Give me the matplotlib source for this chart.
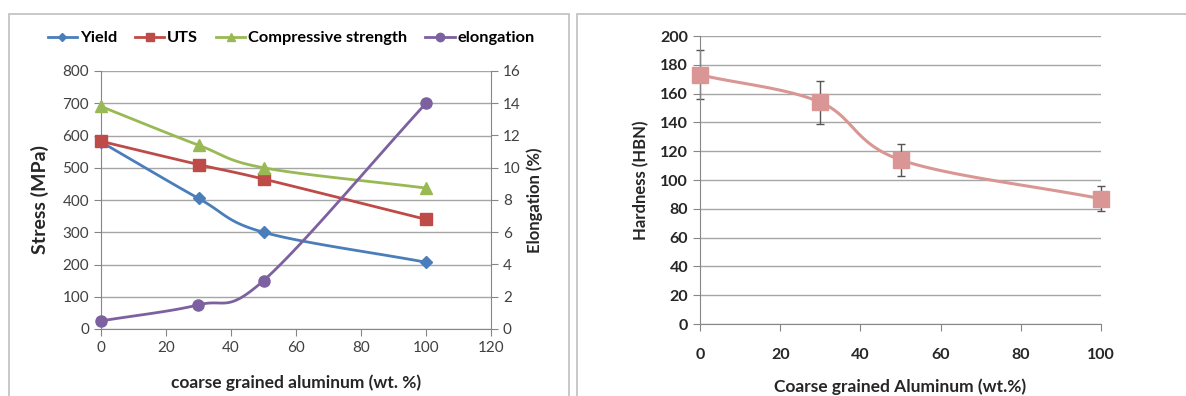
import numpy as np
import matplotlib
matplotlib.use("Agg")
import matplotlib.pyplot as plt
from matplotlib.patches import Rectangle

plt.rcParams['font.family'] = ['Lato', 'DejaVu Sans']

x_comp = [0, 30, 50, 100]
yield_s = [580, 405, 300, 207]
uts = [582, 510, 465, 340]
compressive = [690, 570, 500, 437]
elongation = [0.5, 1.5, 3.0, 14.0]

x_hard = [0, 30, 50, 100]
hardness = [173, 154, 114, 87]
hard_err = [17, 15, 11, 8.5]


def smooth(xs, ys, n=40):
    """Catmull-Rom style smoothing like Excel's smoothed line (rendering only)."""
    xs = np.asarray(xs, float)
    ys = np.asarray(ys, float)
    P = np.column_stack([xs, ys])
    P = np.vstack([P[0] - (P[1] - P[0]), P, P[-1] + (P[-1] - P[-2])])
    out = []
    for i in range(1, len(P) - 2):
        p0, p1, p2, p3 = P[i - 1], P[i], P[i + 1], P[i + 2]
        t = np.linspace(0, 1, n)[:, None]
        t2, t3 = t * t, t * t * t
        pts = 0.5 * ((2 * p1) + (-p0 + p2) * t + (2 * p0 - 5 * p1 + 4 * p2 - p3) * t2
                     + (-p0 + 3 * p1 - 3 * p2 + p3) * t3)
        out.append(pts if i == 1 else pts[1:])
    pts = np.vstack(out)
    return pts[:, 0], pts[:, 1]


fig = plt.figure(figsize=(11.86, 3.96), dpi=100)

# panel frames
fig.patches.append(Rectangle((9 / 1186, -0.1), (569 - 9) / 1186, 1.1 - 14 / 396,
                             transform=fig.transFigure, fill=False, edgecolor='#bfbfbf', lw=1.2))
fig.patches.append(Rectangle((577 / 1186, -0.1), 0.6, 1.1 - 14 / 396,
                             transform=fig.transFigure, fill=False, edgecolor='#bfbfbf', lw=1.2))

grid_c = '#a6a6a6'
axis_c = '#868686'
tick_c = '#404040'

# ---- left chart ----
ax = fig.add_axes([101 / 1186, 1 - 329 / 396, (491 - 101) / 1186, (329 - 71) / 396])
ax2 = ax.twinx()

cols = {'Yield': '#4a7ebb', 'UTS': '#be4b48', 'Compressive strength': '#98b954', 'elongation': '#7d60a0'}
handles = []
for name, ys, mk, ms in [('Yield', yield_s, 'D', 6), ('UTS', uts, 's', 8),
                         ('Compressive strength', compressive, '^', 8)]:
    sx, sy = smooth(x_comp, ys)
    ax.plot(sx, sy, color=cols[name], lw=2, zorder=3)
    ax.plot(x_comp, ys, ls='none', marker=mk, ms=ms, color=cols[name], zorder=4, clip_on=False)
    h, = ax.plot([], [], color=cols[name], lw=2, marker=mk, ms=ms * 0.75, label=name)
    handles.append(h)
sx, sy = smooth(x_comp, elongation)
ax2.plot(sx, sy, color=cols['elongation'], lw=2, zorder=3)
ax2.plot(x_comp, elongation, ls='none', marker='o', ms=8, color=cols['elongation'], zorder=4, clip_on=False)
h, = ax.plot([], [], color=cols['elongation'], lw=2, marker='o', ms=6, label='elongation')
handles.append(h)

ax.set_xlim(0, 120)
ax.set_ylim(0, 800)
ax2.set_ylim(0, 16)
ax.set_xticks(range(0, 121, 20))
ax.set_yticks(range(0, 801, 100))
ax2.set_yticks(range(0, 17, 2))
ax.yaxis.grid(True, color=grid_c, lw=1)
ax.set_axisbelow(True)
for a in (ax, ax2):
    a.spines['top'].set_visible(False)
    for s in ('left', 'right', 'bottom'):
        a.spines[s].set_color(axis_c)
    a.tick_params(colors=axis_c, labelcolor=tick_c, labelsize=11, length=5, direction='out')
ax.spines['right'].set_visible(False)
ax2.spines['left'].set_visible(False)
ax2.spines['bottom'].set_visible(False)
ax.set_ylabel('Stress (MPa)', fontsize=14, fontweight='bold', color='#262626', labelpad=10)
ax2.set_ylabel('Elongation (%)', fontsize=12, fontweight='bold', color='#262626', labelpad=4)
ax.set_xlabel('coarse grained aluminum (wt. %)', fontsize=12.5, fontweight='bold', color='#262626', labelpad=14)
fig.legend(handles=handles, loc='center', bbox_to_anchor=(291 / 1186, 1 - 38 / 396), ncol=4,
           frameon=False, handlelength=1.8, handletextpad=0.15, columnspacing=1.1,
           prop={'weight': 'bold', 'size': 11.8})

# ---- right chart ----
bx = fig.add_axes([700 / 1186, 1 - 324 / 396, (1101 - 700) / 1186, (324 - 36) / 396])
hc = '#d99694'
sx, sy = smooth(x_hard, hardness)
bx.plot(sx, sy, color=hc, lw=2.2, zorder=3, clip_on=False)
bx.errorbar(x_hard, hardness, yerr=hard_err, fmt='none', ecolor='#555555', elinewidth=1, capsize=3,
            zorder=2, clip_on=False)
bx.plot(x_hard, hardness, ls='none', marker='s', ms=11, color=hc, zorder=4, clip_on=False)
bx.set_xlim(0, 100)
bx.set_ylim(0, 200)
bx.set_xticks(range(0, 101, 20))
bx.set_yticks(range(0, 201, 20))
bx.yaxis.grid(True, color=grid_c, lw=1)
bx.set_axisbelow(True)
for s in ('top', 'right'):
    bx.spines[s].set_visible(False)
for s in ('left', 'bottom'):
    bx.spines[s].set_color(axis_c)
bx.tick_params(colors=axis_c, labelcolor='#262626', labelsize=11.5, length=5, direction='out')
bx.tick_params(axis='x', pad=12)
for lab in bx.get_xticklabels() + bx.get_yticklabels():
    lab.set_fontweight('bold')
bx.set_ylabel('Hardness (HBN)', fontsize=12, fontweight='bold', color='#262626', labelpad=8)
bx.set_xlabel('Coarse grained Aluminum (wt.%)', fontsize=12.5, fontweight='bold', color='#262626', labelpad=12)

fig.savefig('out.png', dpi=100)
